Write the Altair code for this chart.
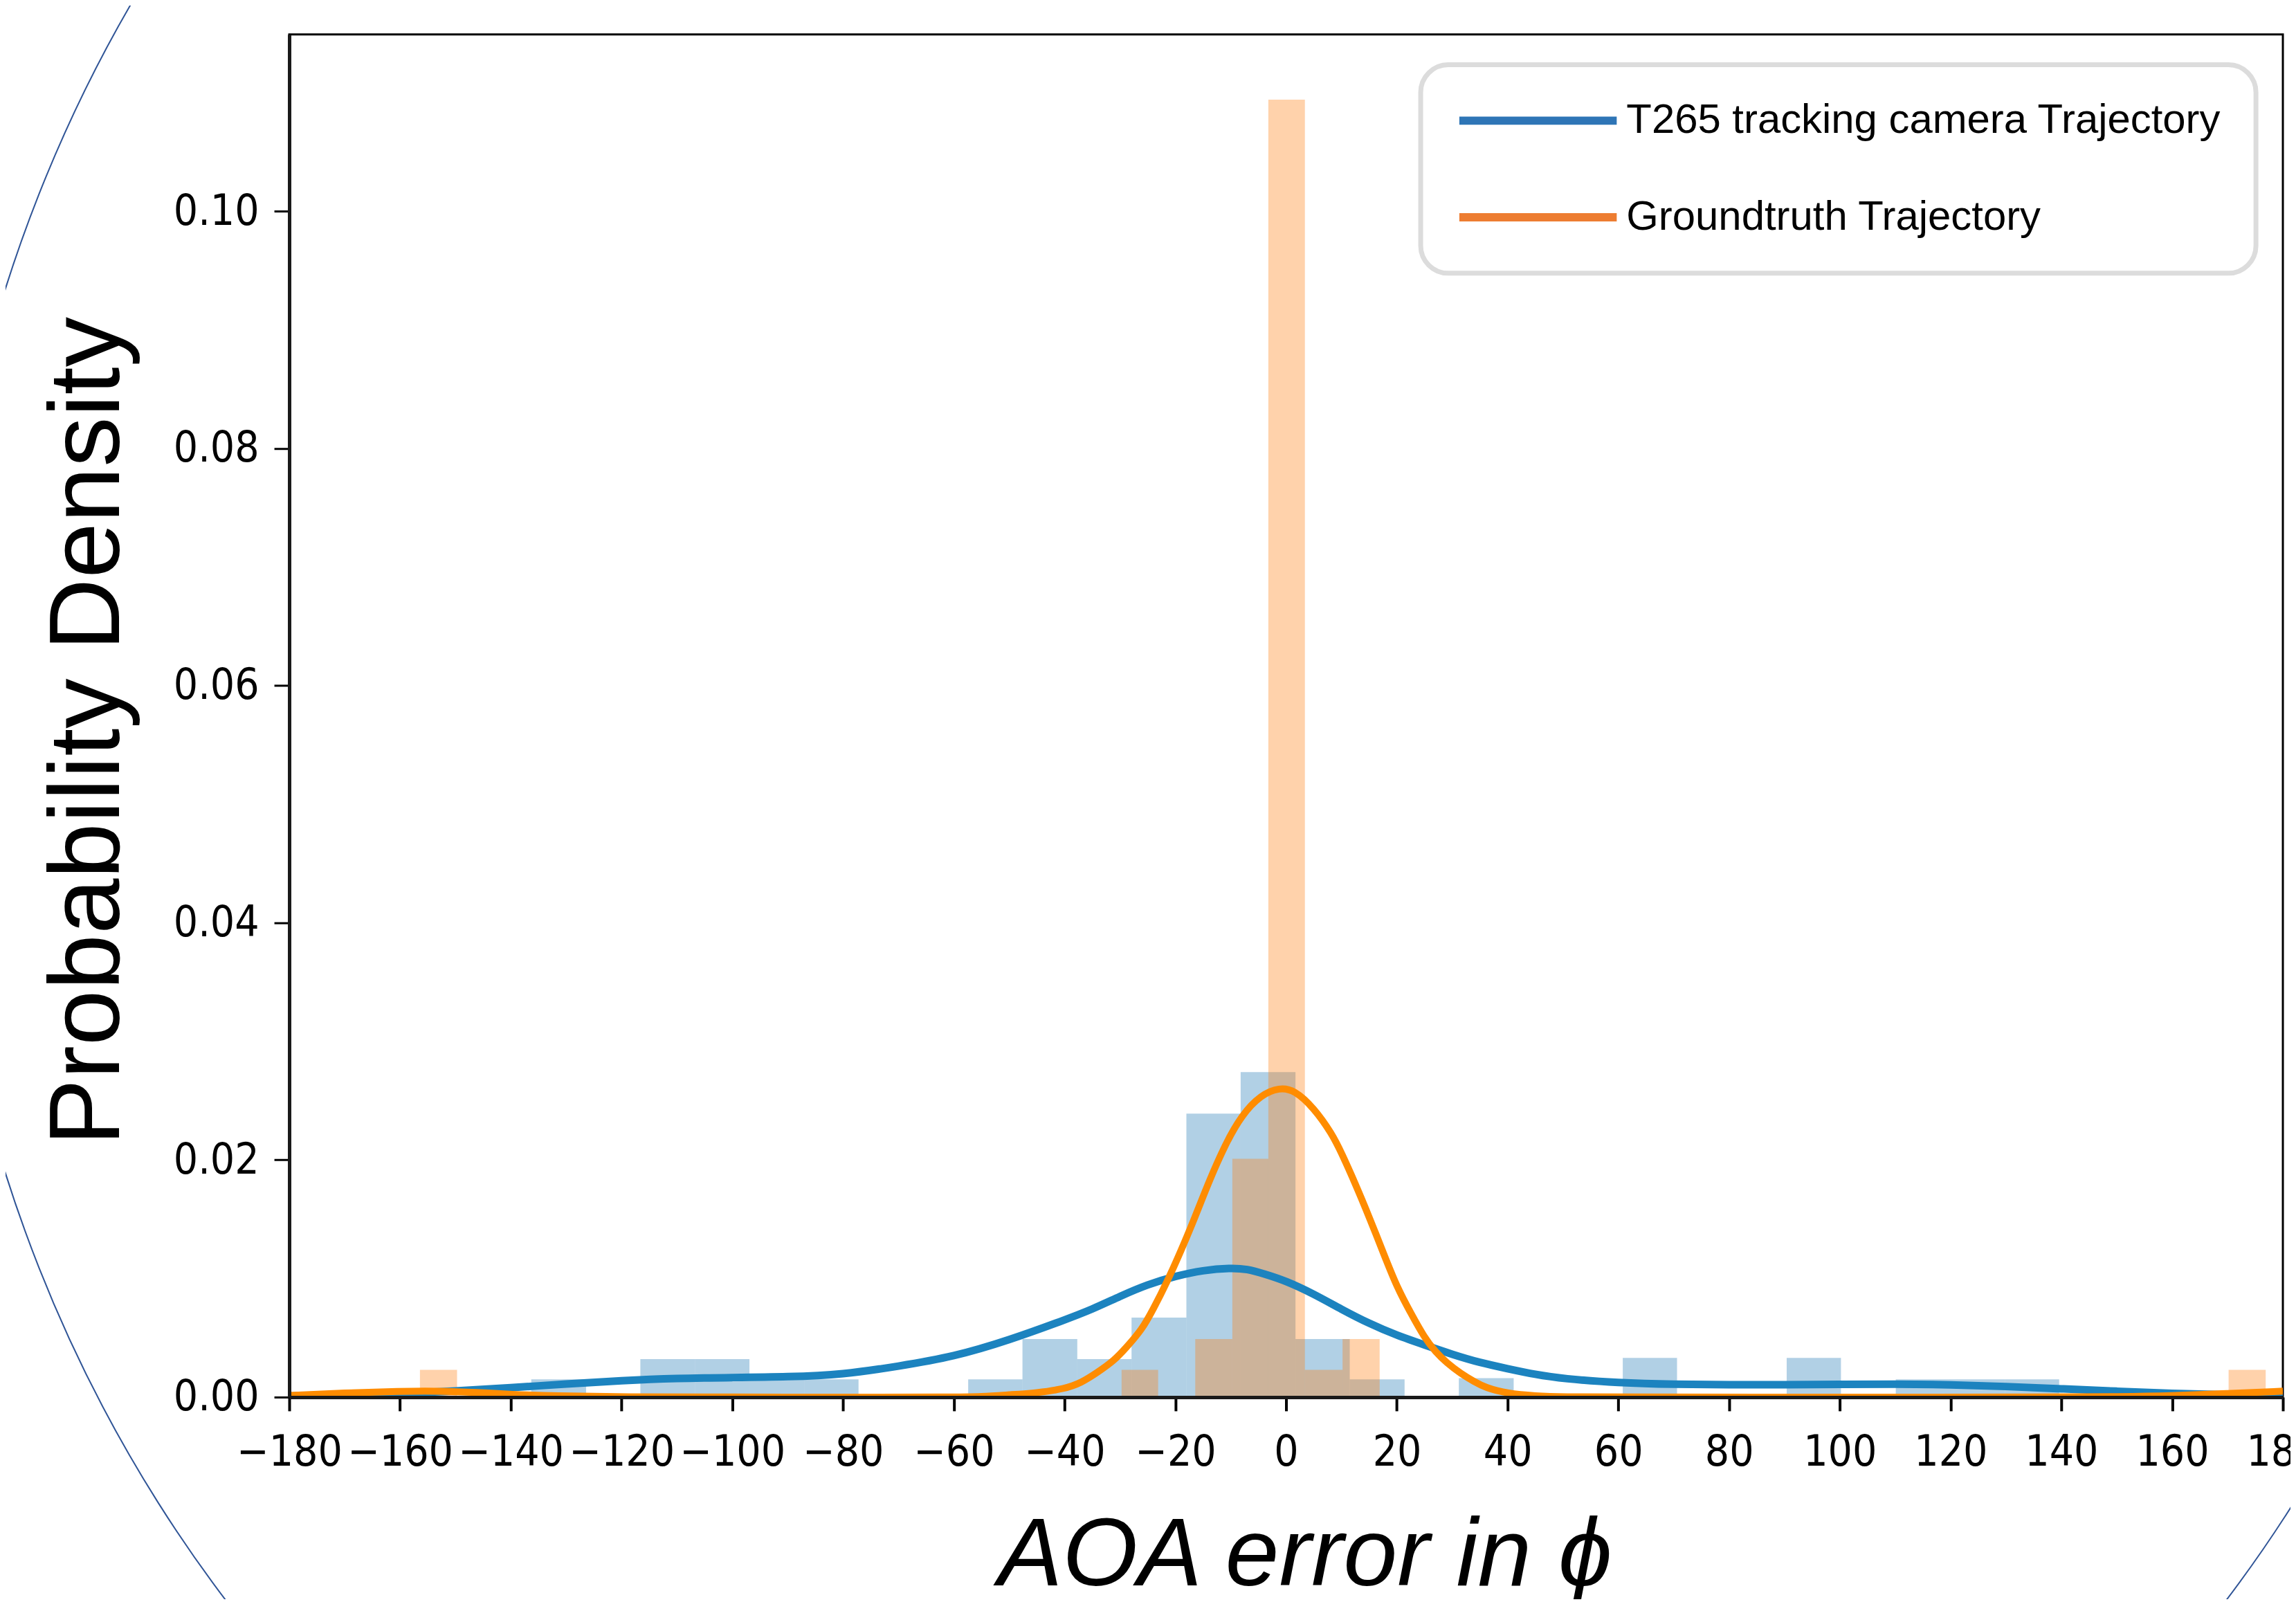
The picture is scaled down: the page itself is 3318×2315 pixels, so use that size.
import altair as alt
import pandas as pd

# ---------------- data ----------------
SERIES = ["T265 tracking camera Trajectory", "Groundtruth Trajectory"]

# T265 histogram: bin edges and densities
blue_edges = [-136.3, -126.4, -116.6, -106.7, -96.9, -87.0, -77.2, -67.3, -57.4,
              -47.6, -37.7, -27.9, -18.0, -8.2, 1.7, 11.5, 21.4, 31.2, 41.1,
              50.9, 60.8, 70.6, 80.5, 90.4, 100.2, 110.1, 119.9, 129.8, 139.6]
blue_density = [0.0015, 0.0, 0.0032, 0.0032, 0.0015, 0.0015, 0.0, 0.0, 0.0015,
                0.0049, 0.0032, 0.0067, 0.0239, 0.0274, 0.0049, 0.0015, 0.0, 0.0016,
                0.0, 0.0, 0.0033, 0.0, 0.0, 0.0033, 0.0, 0.0015, 0.0015, 0.0015]

# Groundtruth histogram: non-empty bins
orange_left = [-156.4, -29.7, -16.4, -9.7, -3.2, 3.4, 10.2, 170.2]
orange_right = [-149.7, -23.1, -9.7, -3.2, 3.4, 10.2, 16.9, 176.9]
orange_density = [0.0023, 0.0023, 0.0049, 0.0201, 0.1094, 0.0023, 0.0049, 0.0023]

# KDE curves
blue_kde_x = [-180, -170, -160, -150, -140, -130, -120, -110, -100, -90, -80, -70, -60,
              -50, -40, -35, -30, -25, -20, -15, -10, -7, -4, 0, 5, 10, 15, 20, 25, 30,
              35, 40, 45, 50, 60, 70, 80, 90, 100, 110, 120, 130, 140, 150, 160, 170, 180]
blue_kde_y = [0.0001, 0.0002, 0.0003, 0.0005, 0.0008, 0.0011, 0.0014, 0.0016, 0.00165,
              0.0017, 0.0019, 0.0026, 0.0034, 0.0048, 0.0065, 0.0074, 0.0085, 0.0095,
              0.0102, 0.0107, 0.0109, 0.0108, 0.0104, 0.0098, 0.0087, 0.0074, 0.0062,
              0.0052, 0.0044, 0.0036, 0.0029, 0.0024, 0.0019, 0.00155, 0.0012, 0.00107,
              0.00103, 0.00105, 0.00108, 0.0011, 0.00105, 0.0009, 0.0007, 0.0005, 0.0003,
              0.0002, 0.0001]

orange_kde_x = [-180, -170, -160, -153, -146, -140, -132, -120, -100, -80, -60, -55, -50,
                -45, -40, -37, -34, -31, -29, -26, -24, -21.5, -19, -16.5, -14, -11, -8,
                -4.5, -1.2, 1.5, 5, 8.3, 10, 12.5, 15, 17.7, 20, 22.5, 25, 27, 29, 31.5,
                34, 36, 40, 45, 50, 60, 100, 140, 150, 160, 170, 180]
orange_kde_y = [0.00014, 0.00035, 0.0005, 0.00052, 0.0004, 0.00023, 0.0001, 0.00002, 0.0,
                0.0, 0.0, 0.00003, 0.0002, 0.00035, 0.0007, 0.0012, 0.0021, 0.0031, 0.0041,
                0.0057, 0.0074, 0.0097, 0.0123, 0.0151, 0.0181, 0.0213, 0.0238, 0.0255,
                0.0261, 0.0259, 0.0244, 0.0222, 0.0206, 0.0180, 0.0152, 0.0120, 0.0093,
                0.0071, 0.0050, 0.0038, 0.0029, 0.0020, 0.0013, 0.0008, 0.0003, 0.0001,
                0.00002, 0.0, 0.0, 0.0, 0.00003, 0.0001, 0.0003, 0.0005]

x_ticks = list(range(-180, 181, 20))
y_ticks = [0.0, 0.02, 0.04, 0.06, 0.08, 0.10]

# ---------------- styling ----------------
W, H = 2888, 1974
HIST_BLUE, HIST_ORANGE = "#1f77b4", "#ff7f0e"
LINE_BLUE, LINE_ORANGE = "#1c83bf", "#ff8c00"
LEGEND_COLORS = ["#2e75b6", "#ed7d31"]
TICK_FONT = "DejaVu Sans Condensed"
TEXT_FONT = "Liberation Sans"

blue_df = pd.DataFrame({"left": blue_edges[:-1], "right": blue_edges[1:],
                        "density": blue_density})
orange_df = pd.DataFrame({"left": orange_left, "right": orange_right,
                          "density": orange_density})
blue_kde = pd.DataFrame({"x": blue_kde_x, "y": blue_kde_y, "series": SERIES[0]})
orange_kde = pd.DataFrame({"x": orange_kde_x, "y": orange_kde_y, "series": SERIES[1]})
kde_df = pd.concat([blue_kde, orange_kde])

xscale = alt.Scale(domain=[-180, 180], nice=False, zero=False)
yscale = alt.Scale(domain=[0, 0.1149], nice=False)

x_axis = alt.Axis(values=x_ticks, format="d", title="AOA error in ϕ",
                  tickSize=20, tickWidth=4, labelPadding=30, labelFontSize=62,
                  labelOverlap=False, labelFlush=False, zindex=1,
                  titleFont=TEXT_FONT, titleFontSize=140, titleFontStyle="italic",
                  titleFontWeight="normal", titleX=1471, titleY=272,
                  titleBaseline="alphabetic", titleAlign="center")
y_axis = alt.Axis(values=y_ticks, format=".2f", title="Probability Density",
                  tickSize=22, tickWidth=3, labelPadding=22, labelFontSize=62,
                  zindex=1,
                  titleFont=TEXT_FONT, titleFontSize=145, titleFontWeight="normal",
                  titleX=-247, titleY=1009, titleBaseline="alphabetic",
                  titleAlign="center")


def bars(df, color):
    return alt.Chart(df).mark_rect(color=color, opacity=0.35).encode(
        x=alt.X("left:Q", scale=xscale, axis=x_axis),
        x2="right:Q",
        y=alt.Y("density:Q", scale=yscale, axis=y_axis),
        y2=alt.datum(0),
    )


def kde_line(df, color, width):
    return alt.Chart(df).mark_line(strokeWidth=width, interpolate="basis", clip=True,
                                   color=color).encode(
        x=alt.X("x:Q", scale=xscale, axis=x_axis),
        y=alt.Y("y:Q", scale=yscale, axis=y_axis),
        order=alt.Order("x:Q"),
    )


# invisible layer that only carries the legend (legend colours differ from curves)
legend_layer = alt.Chart(kde_df).mark_line(strokeWidth=12, opacity=0).encode(
    x=alt.X("x:Q", scale=xscale, axis=x_axis),
    y=alt.Y("y:Q", scale=yscale, axis=y_axis),
    color=alt.Color("series:N",
                    scale=alt.Scale(domain=SERIES, range=LEGEND_COLORS),
                    legend=alt.Legend(title=None, orient="none", legendX=1639,
                                      legendY=44, direction="vertical",
                                      symbolType="stroke", symbolSize=51984,
                                      symbolStrokeWidth=12, symbolOpacity=1,
                                      clipHeight=62, rowPadding=78, padding=50,
                                      labelOffset=8, labelFont=TEXT_FONT,
                                      labelFontSize=60, labelLimit=2000,
                                      labelColor="black", strokeColor="#dcdcdc",
                                      fillColor="white", cornerRadius=40,
                                      zindex=2)),
)

# decorative slide outline (ellipse), unfilled
ELLIPSE_PATH = "M -0.934 0 A 0.934 1 0 1 0 0.934 0 A 0.934 1 0 1 0 -0.934 0 Z"
ellipse = alt.Chart(alt.Data(values=[{"k": 1}])).mark_point(
    shape=ELLIPSE_PATH, size=15968016, filled=False, fill="transparent",
    fillOpacity=0, stroke="#2f5496", strokeWidth=2, opacity=1
).encode(x=alt.value(1357), y=alt.value(1009))

chart = alt.layer(
    ellipse,
    bars(blue_df, HIST_BLUE),
    bars(orange_df, HIST_ORANGE),
    kde_line(blue_kde, LINE_BLUE, 11),
    kde_line(orange_kde, LINE_ORANGE, 10),
    legend_layer,
).properties(
    width=W, height=H,
    autosize=alt.AutoSizeParams(type="none"),
    padding={"left": 411, "top": 39, "right": 11, "bottom": 290},
).configure_view(stroke="black", strokeWidth=3).configure_axis(
    domainColor="#1a1a1a", domainWidth=5, tickColor="black", grid=False,
    labelFont=TICK_FONT, labelColor="black", titleColor="black",
).configure_legend(strokeWidth=7)

chart.save("out.html", embed_options={"renderer": "svg", "actions": False})
